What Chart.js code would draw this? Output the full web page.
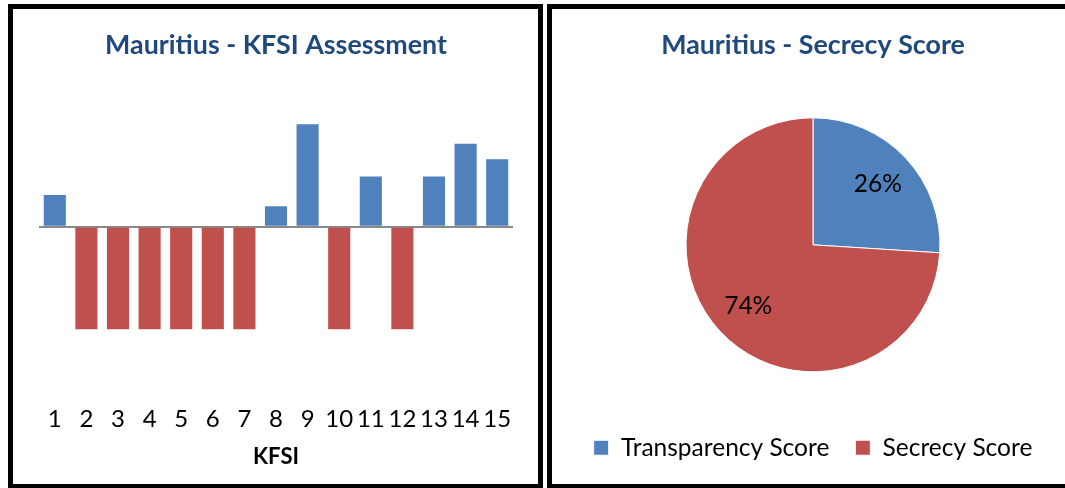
<!DOCTYPE html>
<html>
<head>
<meta charset="utf-8">
<script src="https://cdn.jsdelivr.net/npm/chart.js@4"></script>
<style>
  html, body { margin: 0; padding: 0; background: #fff; overflow: hidden; }
  body { width: 1065px; height: 488px; position: relative; }
  .panel { position: absolute; top: 4px; height: 485px; border: 5px solid #000; box-sizing: border-box; background: #fff; }
  #leftPanel { left: 8px; width: 535px; }
  #rightPanel { left: 547px; width: 532px; }
  .panel div { position: absolute; left: 0; top: 0; right: 0; bottom: 0; }
</style>
</head>
<body>
<div class="panel" id="leftPanel"><div><canvas id="kfsiChart"></canvas></div></div>
<div class="panel" id="rightPanel"><div><canvas id="pieChart"></canvas></div></div>
<script>
const kfsiLabels = ['1', '2', '3', '4', '5', '6', '7', '8', '9', '10', '11', '12', '13', '14', '15'];
const kfsiValues = [0.31, -1, -1, -1, -1, -1, -1, 0.2, 1.0, -1, 0.49, -1, 0.49, 0.81, 0.66];

const pieLabels = ['Transparency Score', 'Secrecy Score'];
const pieValues = [26, 74];

const blue = '#4F81BD';
const red = '#C0504D';
const titleColor = '#1F497D';

Chart.defaults.font.family = 'Lato, "Open Sans", sans-serif';
Chart.defaults.color = '#000';

// bar chart of the KFSI, blue for positive and red for negative
new Chart(document.getElementById('kfsiChart'), {
  type: 'bar',
  data: {
    labels: kfsiLabels,
    datasets: [{
      data: kfsiValues,
      backgroundColor: kfsiValues.map(v => v < 0 ? red : blue),
      barPercentage: 0.7,
      categoryPercentage: 1.0,
    }],
  },
  options: {
    responsive: true,
    maintainAspectRatio: false,
    animation: false,
    layout: { padding: { top: 12, left: 26, right: 25, bottom: 10 } },
    plugins: {
      legend: { display: false },
      tooltip: { enabled: false },
      title: {
        display: true,
        text: 'Mauritius - KFSI Assessment',
        color: titleColor,
        font: { size: 26.8, weight: 'bold' },
        padding: { top: 8, bottom: 10 },
      },
    },
    scales: {
      x: {
        grid: { display: false },
        border: { display: false },
        ticks: { font: { size: 24 }, autoSkip: false, maxRotation: 0, minRotation: 0, padding: 3 },
        title: { display: true, text: 'KFSI', font: { size: 22, weight: 'bold' }, padding: { top: 7, bottom: 4 } },
      },
      y: {
        min: -1.631,
        max: 1.519,
        ticks: { display: false },
        border: { display: false },
        // only the zero line is drawn
        afterBuildTicks: axis => { axis.ticks = [{ value: 0 }]; },
        grid: { drawTicks: false, color: '#898989', lineWidth: 2 },
      },
    },
  },
});

// percent labels inside the slices
const sliceLabels = {
  id: 'sliceLabels',
  afterDatasetsDraw(chart) {
    const ctx = chart.ctx;
    const meta = chart.getDatasetMeta(0);
    const total = pieValues.reduce((a, b) => a + b, 0);
    ctx.save();
    ctx.font = '24.5px Lato';
    ctx.fillStyle = '#000';
    ctx.textAlign = 'center';
    ctx.textBaseline = 'middle';
    meta.data.forEach((arc, i) => {
      const p = arc.getProps(['x', 'y', 'startAngle', 'endAngle', 'outerRadius'], true);
      const mid = (p.startAngle + p.endAngle) / 2;
      const r = p.outerRadius * 0.7;
      ctx.fillText(Math.round(pieValues[i] / total * 100) + '%', p.x + Math.cos(mid) * r, p.y + Math.sin(mid) * r);
    });
    ctx.restore();
  },
};

new Chart(document.getElementById('pieChart'), {
  type: 'pie',
  data: {
    labels: pieLabels,
    datasets: [{
      data: pieValues,
      backgroundColor: [blue, red],
      borderColor: '#fff',
      borderWidth: 1,
      radius: 127,
    }],
  },
  options: {
    responsive: true,
    maintainAspectRatio: false,
    animation: false,
    layout: { padding: { top: 10, bottom: 14 } },
    plugins: {
      tooltip: { enabled: false },
      title: {
        display: true,
        text: 'Mauritius - Secrecy Score',
        color: titleColor,
        font: { size: 26.8, weight: 'bold' },
        padding: { top: 10, bottom: 19 },
      },
      legend: {
        position: 'bottom',
        labels: { boxWidth: 15, boxHeight: 15, padding: 26, font: { size: 24.5 } },
      },
    },
  },
  plugins: [sliceLabels],
});
</script>
</body>
</html>
